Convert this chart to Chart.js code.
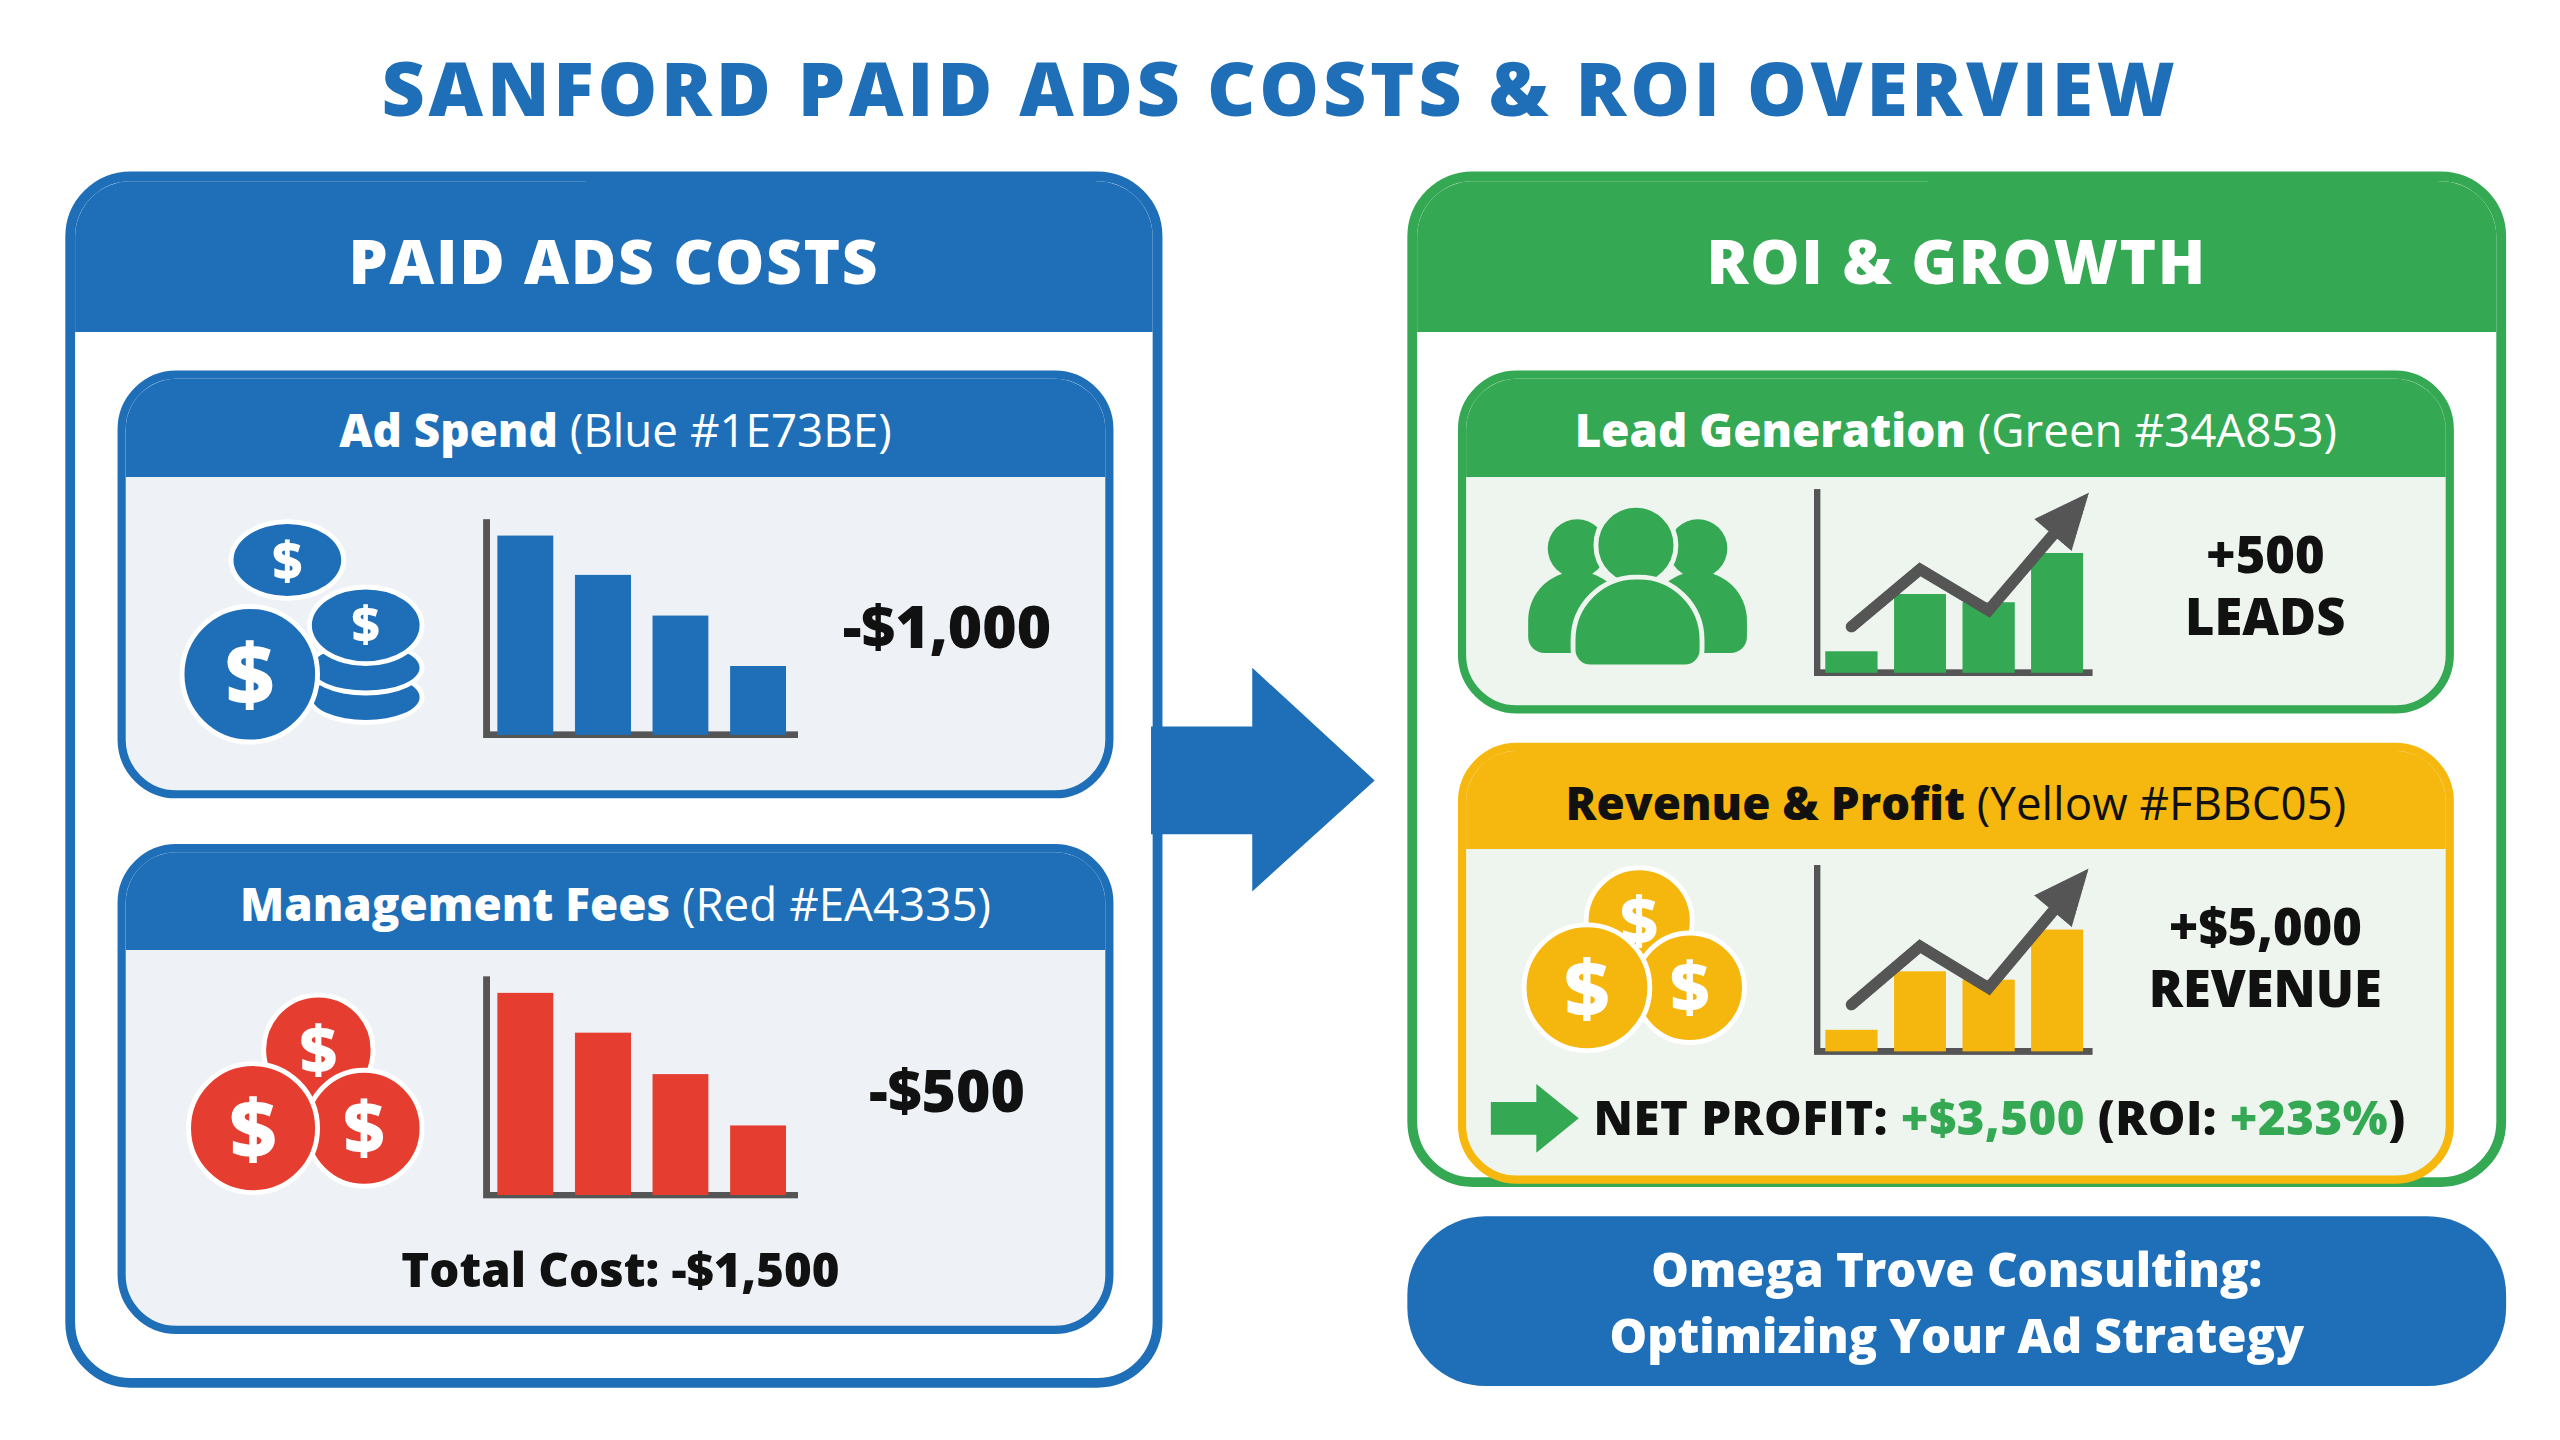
<!DOCTYPE html>
<html><head><meta charset="utf-8">
<script src="https://cdn.jsdelivr.net/npm/chart.js@4.4.1/dist/chart.umd.min.js"></script>
<style>
html,body{margin:0;padding:0;background:#fff;width:2560px;height:1440px;overflow:hidden}
#stage{position:absolute;left:0;top:0;width:1568px;height:882px;transform:scale(1.63265);transform-origin:0 0;font-family:"Open Sans",sans-serif;color:#111}
.abs{position:absolute}
.title{left:0;width:1568px;top:22px;text-align:center;font-size:46px;font-weight:800;color:#1E6FB8;letter-spacing:2.3px}
.panel{box-sizing:border-box;border:6px solid;border-radius:40px;background:#fff;overflow:hidden}
.phead{position:absolute;left:0;right:0;top:0;height:92px;color:#fff;font-size:38px;font-weight:800;text-align:center;line-height:96px;letter-spacing:1px}
.card{box-sizing:border-box;border:5px solid;border-radius:36px;background:#EEF2F6;overflow:hidden}
.chead{position:absolute;left:0;right:0;top:0;height:60px;color:#fff;font-size:28px;text-align:center;line-height:62px}
.chead b{font-weight:800}
.big{font-weight:800;font-size:35px;text-align:center}
.coin{position:absolute;border-radius:50%;color:#fff;font-weight:800;text-align:center;box-sizing:border-box;border:3px solid #fff}
.cv{position:absolute}
</style></head><body>
<div id="stage">
 <div class="abs title">SANFORD PAID ADS COSTS &amp; ROI OVERVIEW</div>

 <div class="abs panel" style="left:40px;top:105px;width:672px;height:745px;border-color:#1E6FB8">
  <div class="phead" style="background:#1E6FB8">PAID ADS COSTS</div>
 </div>
 <div class="abs card" style="left:72px;top:227px;width:610px;height:262px;border-color:#1E6FB8">
  <div class="chead" style="background:#1E6FB8"><b>Ad Spend</b> (Blue #1E73BE)</div>
 </div>
 <div class="abs card" style="left:72px;top:517px;width:610px;height:300px;border-color:#1E6FB8">
  <div class="chead" style="background:#1E6FB8"><b>Management Fees</b> (Red #EA4335)</div>
 </div>
 <div class="coin" style="left:140px;top:318px;width:72px;height:50px;background:#1E6FB8;font-size:32px;line-height:44px">$</div>
 <div class="coin" style="left:188px;top:410px;width:72px;height:34px;background:#1E6FB8"></div>
 <div class="coin" style="left:188px;top:392px;width:72px;height:34px;background:#1E6FB8"></div>
 <div class="coin" style="left:188px;top:358px;width:72px;height:50px;background:#1E6FB8;font-size:30px;line-height:42px">$</div>
 <div class="coin" style="left:110px;top:370px;width:86px;height:86px;background:#1E6FB8;font-size:52px;line-height:78px">$</div>
 <div class="coin" style="left:160px;top:608px;width:70px;height:70px;background:#E53E31;font-size:40px;line-height:62px">$</div>
 <div class="coin" style="left:186px;top:654px;width:74px;height:74px;background:#E53E31;font-size:44px;line-height:66px">$</div>
 <div class="coin" style="left:114px;top:650px;width:82px;height:82px;background:#E53E31;font-size:50px;line-height:74px">$</div>

 <div class="cv" style="left:290px;top:318px;width:210px;height:140px"><canvas id="c1"></canvas></div>
 <div class="cv" style="left:290px;top:598px;width:210px;height:142px"><canvas id="c2"></canvas></div>
 <div class="abs big" style="left:505px;top:362px;width:150px;font-size:36px;line-height:44px">-$1,000</div>
 <div class="abs big" style="left:505px;top:646px;width:150px;font-size:36px;line-height:44px">-$500</div>
 <div class="abs big" style="left:180px;top:758px;width:400px;font-size:29px;line-height:38px">Total Cost: -$1,500</div>

 <svg class="abs" style="left:705px;top:405px" width="142" height="145"><polygon points="0,40 62,40 62,4 137,73 62,141 62,106 0,106" fill="#1E6FB8"/></svg>

 <div class="abs panel" style="left:862px;top:105px;width:673px;height:622px;border-color:#34A853">
  <div class="phead" style="background:#34A853">ROI &amp; GROWTH</div>
 </div>
 <div class="abs card" style="left:893px;top:227px;width:610px;height:210px;border-color:#34A853;background:#EEF4EE">
  <div class="chead" style="background:#34A853"><b>Lead Generation</b> (Green #34A853)</div>
 </div>
 <div class="abs card" style="left:893px;top:455px;width:610px;height:270px;border-color:#F6B80E;background:#EEF4EE">
  <div class="chead" style="background:#F6B80E;color:#111"><b>Revenue &amp; Profit</b> (Yellow #FBBC05)</div>
 </div>
 <div class="coin" style="left:948px;top:318px;width:36px;height:36px;background:#34A853;border:none"></div>
 <div class="coin" style="left:1022px;top:318px;width:36px;height:36px;background:#34A853;border:none"></div>
 <div class="coin" style="left:936px;top:350px;width:60px;height:50px;background:#34A853;border:none;border-radius:30px 30px 10px 10px"></div>
 <div class="coin" style="left:1010px;top:350px;width:60px;height:50px;background:#34A853;border:none;border-radius:30px 30px 10px 10px"></div>
 <div class="coin" style="left:976px;top:308px;width:52px;height:52px;background:#34A853;border:3px solid #EEF4EE"></div>
 <div class="coin" style="left:962px;top:352px;width:82px;height:58px;background:#34A853;border:3px solid #EEF4EE;border-radius:40px 40px 12px 12px"></div>
 <div class="coin" style="left:970px;top:530px;width:68px;height:68px;background:#F5B70E;font-size:40px;line-height:60px">$</div>
 <div class="coin" style="left:1000px;top:570px;width:70px;height:70px;background:#F5B70E;font-size:42px;line-height:62px">$</div>
 <div class="coin" style="left:932px;top:565px;width:80px;height:80px;background:#F5B70E;font-size:48px;line-height:72px">$</div>

 <div class="cv" style="left:1105px;top:298px;width:180px;height:122px"><canvas id="c3"></canvas></div>
 <div class="cv" style="left:1105px;top:528px;width:180px;height:124px"><canvas id="c4"></canvas></div>
 <div class="abs big" style="left:1290px;top:318px;width:195px;font-size:31px;line-height:42px">+500</div>
 <div class="abs big" style="left:1290px;top:356px;width:195px;font-size:31px;line-height:42px">LEADS</div>
 <div class="abs big" style="left:1290px;top:546px;width:195px;font-size:31px;line-height:42px">+$5,000</div>
 <div class="abs big" style="left:1290px;top:584px;width:195px;font-size:31px;line-height:42px">REVENUE</div>
 <svg class="abs" style="left:913px;top:664px" width="56" height="42"><polygon points="0,11 28,11 28,0 54,21 28,42 28,31 0,31" fill="#34A853"/></svg>
 <div class="abs" style="left:976px;top:664px;width:520px;font-size:29px;font-weight:800;white-space:nowrap;letter-spacing:0.3px">NET PROFIT: <span style="color:#34A853">+$3,500</span> (ROI: <span style="color:#34A853">+233%</span>)</div>

 <div class="abs" style="left:862px;top:745px;width:673px;height:104px;background:#1E6FB8;border-radius:48px;color:#fff;font-size:29px;font-weight:800;text-align:center;line-height:41px;padding-top:11px;box-sizing:border-box">Omega Trove Consulting:<br>Optimizing Your Ad Strategy</div>
</div>
<script>
const barLabels = ["1","2","3","4"];
const adSpendValues = [122, 98, 73, 42];
const mgmtFeeValues = [122, 98, 73, 42];
const leadBarValues = [13, 48, 43, 73];
const leadLineValues = [28, 63, 38, 87];
const revBarValues = [13, 48, 43, 73];
const revLineValues = [28, 63, 38, 87];

const axisGrey = "#555";
function scales(max){
  return {
    x:{grid:{display:false},ticks:{display:false},border:{color:axisGrey,width:4}},
    y:{min:0,max:max,grid:{display:false},ticks:{display:false},border:{color:axisGrey,width:4}}
  };
}
const arrowPlugin = {
  id:"arrowHead",
  afterDatasetsDraw(chart){
    const meta = chart.getDatasetMeta(1);
    if(!meta || meta.type!=="line") return;
    const p = meta.data, a = p[p.length-2], b = p[p.length-1];
    const ang = Math.atan2(b.y-a.y, b.x-a.x);
    const ctx = chart.ctx, L = 26, W = 15;
    const tx = b.x + Math.cos(ang)*22, ty = b.y + Math.sin(ang)*22;
    ctx.save();
    ctx.strokeStyle=axisGrey;ctx.lineWidth=7;ctx.lineCap="round";
    ctx.beginPath();ctx.moveTo(b.x,b.y);ctx.lineTo(tx-Math.cos(ang)*8,ty-Math.sin(ang)*8);ctx.stroke();
    ctx.fillStyle=axisGrey;ctx.beginPath();
    ctx.moveTo(tx+Math.cos(ang)*8,ty+Math.sin(ang)*8);
    ctx.lineTo(tx-Math.cos(ang)*L+Math.sin(ang)*W, ty-Math.sin(ang)*L-Math.cos(ang)*W);
    ctx.lineTo(tx-Math.cos(ang)*L-Math.sin(ang)*W, ty-Math.sin(ang)*L+Math.cos(ang)*W);
    ctx.closePath();ctx.fill();ctx.restore();
  }
};
const common = {responsive:true,maintainAspectRatio:false,animation:false,devicePixelRatio:3,
  plugins:{legend:{display:false},tooltip:{enabled:false}}};

function barChart(id, vals, color){
  new Chart(document.getElementById(id),{type:"bar",
    data:{labels:barLabels,datasets:[{data:vals,backgroundColor:color,categoryPercentage:0.9,barPercentage:0.8}]},
    options:Object.assign({},common,{scales:scales(130),layout:{padding:{left:0,right:12,top:2,bottom:0}}})});
}
function growthChart(id, bars, line, color){
  new Chart(document.getElementById(id),{type:"bar",
    data:{labels:barLabels,datasets:[
      {type:"bar",data:bars,backgroundColor:color,categoryPercentage:0.95,barPercentage:0.8,order:2},
      {type:"line",data:line,borderColor:axisGrey,borderWidth:7,pointRadius:0,tension:0,order:1,borderCapStyle:"round",borderJoinStyle:"miter"}
    ]},
    options:Object.assign({},common,{scales:scales(110),layout:{padding:{left:0,right:4,top:2,bottom:0}}}),
    plugins:[arrowPlugin]});
}
barChart("c1", adSpendValues, "#1E6FB8");
barChart("c2", mgmtFeeValues, "#E53E31");
growthChart("c3", leadBarValues, leadLineValues, "#34A853");
growthChart("c4", revBarValues, revLineValues, "#F5B70E");
</script>
</body></html>
